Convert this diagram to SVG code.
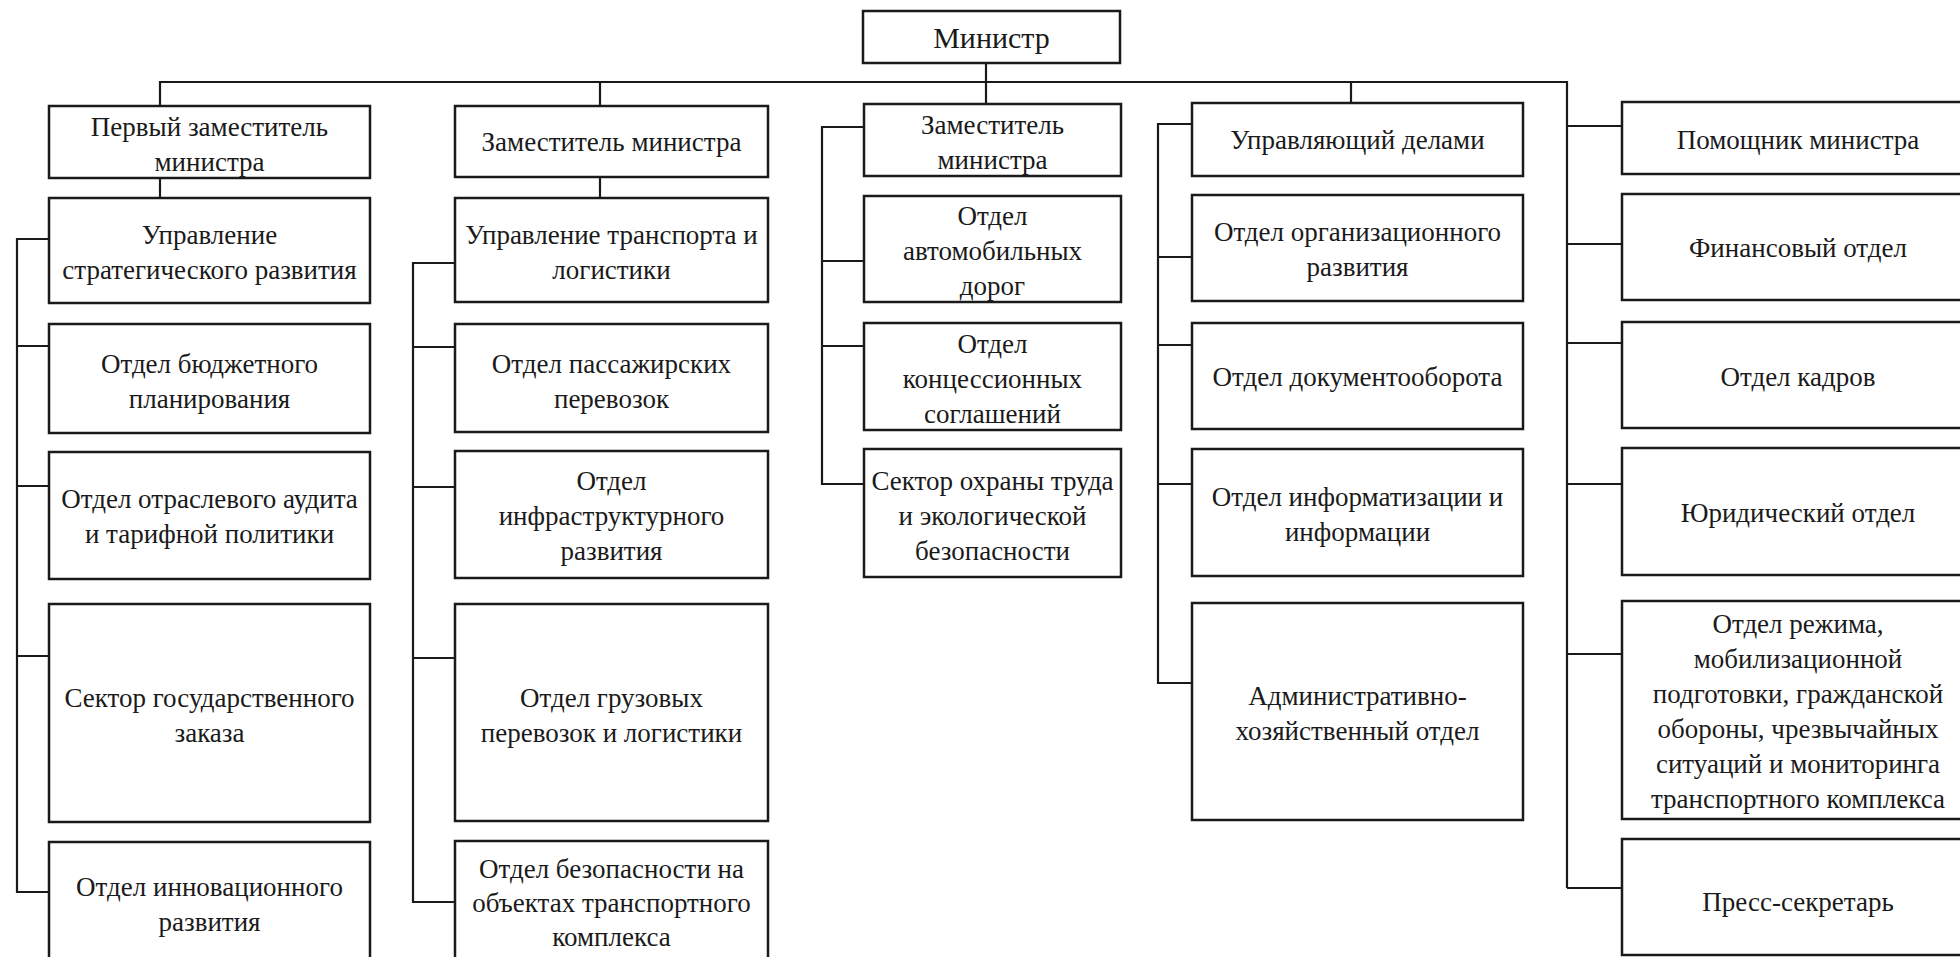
<svg xmlns="http://www.w3.org/2000/svg" width="1960" height="957" viewBox="0 0 1960 957">
<style>
.b{fill:#fff;stroke:#1a1a1a;stroke-width:2.5}
.t{font-family:"Liberation Serif","Times New Roman",serif;font-size:27px;fill:#1a1a1a;text-anchor:middle}
.big{font-size:30px}
.c{fill:none;stroke:#1a1a1a;stroke-width:2.2}
</style>
<rect width="1960" height="957" fill="#fff"/>
<g id="connectors">
<path class="c" d="M160,106V82H1567V888"/>
<path class="c" d="M986,63V104"/>
<path class="c" d="M600,82V106"/>
<path class="c" d="M1351,82V103"/>
<path class="c" d="M160,178V198"/>
<path class="c" d="M600,177V198"/>
<path class="c" d="M49,239H17V892H49M17,346H49M17,486H49M17,656H49"/>
<path class="c" d="M455,263H413V902H455M413,347H455M413,487H455M413,658H455"/>
<path class="c" d="M864,127H822V484H864M822,261H864M822,346H864"/>
<path class="c" d="M1192,124H1158V683H1192M1158,257H1192M1158,345H1192M1158,484H1192"/>
<path class="c" d="M1567,126H1622M1567,244H1622M1567,343H1622M1567,484H1622M1567,654H1622M1567,888H1622"/>
</g>
<g id="minister"><rect class="b" x="863" y="11" width="257" height="52"/><text class="t big" x="991.5" y="48">Министр</text></g>
<!-- column 1 -->
<g id="b1"><rect class="b" x="49" y="106" width="321" height="72"/><text class="t" x="209.5" y="135.5">Первый заместитель</text><text class="t" x="209.5" y="170.5">министра</text></g>
<g id="c1a"><rect class="b" x="49" y="198" width="321" height="105"/><text class="t" x="209.5" y="243.5">Управление</text><text class="t" x="209.5" y="278.5">стратегического развития</text></g>
<g id="c1b"><rect class="b" x="49" y="324" width="321" height="109"/><text class="t" x="209.5" y="372.5">Отдел бюджетного</text><text class="t" x="209.5" y="407.5">планирования</text></g>
<g id="c1c"><rect class="b" x="49" y="452" width="321" height="127"/><text class="t" x="209.5" y="508">Отдел отраслевого аудита</text><text class="t" x="209.5" y="543">и тарифной политики</text></g>
<g id="c1d"><rect class="b" x="49" y="604" width="321" height="218"/><text class="t" x="209.5" y="707">Сектор государственного</text><text class="t" x="209.5" y="742">заказа</text></g>
<g id="c1e"><rect class="b" x="49" y="842" width="321" height="130"/><text class="t" x="209.5" y="895.5">Отдел инновационного</text><text class="t" x="209.5" y="930.5">развития</text></g>
<!-- column 2 -->
<g id="b2"><rect class="b" x="455" y="106" width="313" height="71"/><text class="t" x="611.5" y="150.5">Заместитель министра</text></g>
<g id="c2a"><rect class="b" x="455" y="198" width="313" height="104"/><text class="t" x="611.5" y="243.5">Управление транспорта и</text><text class="t" x="611.5" y="278.5">логистики</text></g>
<g id="c2b"><rect class="b" x="455" y="324" width="313" height="108"/><text class="t" x="611.5" y="372.5">Отдел пассажирских</text><text class="t" x="611.5" y="407.5">перевозок</text></g>
<g id="c2c"><rect class="b" x="455" y="451" width="313" height="127"/><text class="t" x="611.5" y="490">Отдел</text><text class="t" x="611.5" y="525">инфраструктурного</text><text class="t" x="611.5" y="560">развития</text></g>
<g id="c2d"><rect class="b" x="455" y="604" width="313" height="217"/><text class="t" x="611.5" y="706.5">Отдел грузовых</text><text class="t" x="611.5" y="741.5">перевозок и логистики</text></g>
<g id="c2e"><rect class="b" x="455" y="841" width="313" height="130"/><text class="t" x="611.5" y="878">Отдел безопасности на</text><text class="t" x="611.5" y="912">объектах транспортного</text><text class="t" x="611.5" y="946">комплекса</text></g>
<!-- column 3 -->
<g id="b3"><rect class="b" x="864" y="104" width="257" height="72"/><text class="t" x="992.5" y="134">Заместитель</text><text class="t" x="992.5" y="169">министра</text></g>
<g id="c3a"><rect class="b" x="864" y="196" width="257" height="106"/><text class="t" x="992.5" y="224.5">Отдел</text><text class="t" x="992.5" y="259.5">автомобильных</text><text class="t" x="992.5" y="294.5">дорог</text></g>
<g id="c3b"><rect class="b" x="864" y="323" width="257" height="107"/><text class="t" x="992.5" y="353">Отдел</text><text class="t" x="992.5" y="388">концессионных</text><text class="t" x="992.5" y="423">соглашений</text></g>
<g id="c3c"><rect class="b" x="864" y="449" width="257" height="128"/><text class="t" x="992.5" y="490">Сектор охраны труда</text><text class="t" x="992.5" y="525">и экологической</text><text class="t" x="992.5" y="560">безопасности</text></g>
<!-- column 4 -->
<g id="b4"><rect class="b" x="1192" y="103" width="331" height="73"/><text class="t" x="1357.5" y="148.5">Управляющий делами</text></g>
<g id="c4a"><rect class="b" x="1192" y="195" width="331" height="106"/><text class="t" x="1357.5" y="240.5">Отдел организационного</text><text class="t" x="1357.5" y="275.5">развития</text></g>
<g id="c4b"><rect class="b" x="1192" y="323" width="331" height="106"/><text class="t" x="1357.5" y="385.5">Отдел документооборота</text></g>
<g id="c4c"><rect class="b" x="1192" y="449" width="331" height="127"/><text class="t" x="1357.5" y="505.5">Отдел информатизации и</text><text class="t" x="1357.5" y="540.5">информации</text></g>
<g id="c4d"><rect class="b" x="1192" y="603" width="331" height="217"/><text class="t" x="1357.5" y="704.5">Административно-</text><text class="t" x="1357.5" y="739.5">хозяйственный отдел</text></g>
<!-- column 5 -->
<g id="b5"><rect class="b" x="1622" y="102" width="354" height="72"/><text class="t" x="1798" y="149">Помощник министра</text></g>
<g id="c5a"><rect class="b" x="1622" y="194" width="354" height="106"/><text class="t" x="1798" y="257">Финансовый отдел</text></g>
<g id="c5b"><rect class="b" x="1622" y="322" width="354" height="106"/><text class="t" x="1798" y="385.5">Отдел кадров</text></g>
<g id="c5c"><rect class="b" x="1622" y="448" width="354" height="127"/><text class="t" x="1798" y="522">Юридический отдел</text></g>
<g id="c5d"><rect class="b" x="1622" y="601" width="354" height="218"/><text class="t" x="1798" y="632.5">Отдел режима,</text><text class="t" x="1798" y="667.5">мобилизационной</text><text class="t" x="1798" y="702.5">подготовки, гражданской</text><text class="t" x="1798" y="737.5">обороны, чрезвычайных</text><text class="t" x="1798" y="772.5">ситуаций и мониторинга</text><text class="t" x="1798" y="807.5">транспортного комплекса</text></g>
<g id="c5e"><rect class="b" x="1622" y="839" width="354" height="116"/><text class="t" x="1798" y="910.5">Пресс-секретарь</text></g>
</svg>
